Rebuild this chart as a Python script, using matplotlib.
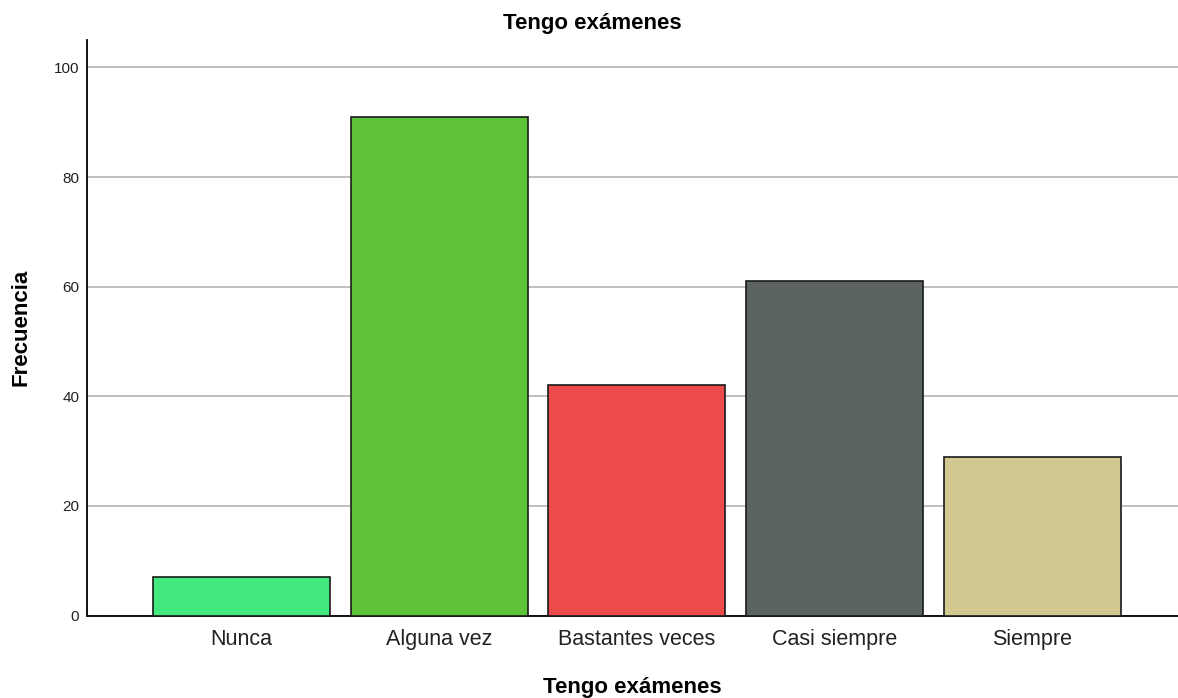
import matplotlib
matplotlib.use("Agg")
import matplotlib.pyplot as plt

categories = ["Nunca", "Alguna vez", "Bastantes veces", "Casi siempre", "Siempre"]
values = [7, 91, 42, 61, 29]
colors = ["#42E97E", "#5EC339", "#EC4A4B", "#5B645F", "#D1C98F"]
title = "Tengo exámenes"
xlabel = "Tengo exámenes"
ylabel = "Frecuencia"
yticks = [0, 20, 40, 60, 80, 100]

plt.rcParams["font.family"] = ["Liberation Sans", "DejaVu Sans"]

fig = plt.figure(figsize=(11.78, 6.98), dpi=100)
ax = fig.add_axes([87.5 / 1178, 1 - 615.5 / 698, 1 - 87.5 / 1178, (615.5 - 40) / 698])

x = list(range(len(categories)))
ax.bar(x, values, width=0.895, color=colors, edgecolor="#1a1a1a", linewidth=1.2, zorder=3)

ax.set_xlim(-0.779, 4.737)
ax.set_ylim(0, 105)
ax.set_yticks(yticks)
ax.yaxis.grid(True, color="#b4b4b4", linewidth=1.2, zorder=0)
ax.set_axisbelow(True)
ax.set_xticks(x)
ax.set_xticklabels(categories, fontsize=15.5, color="#222222")
ax.tick_params(axis="y", labelsize=11, length=0, pad=6, labelcolor="#222222")
ax.tick_params(axis="x", length=0, pad=10)

for s in ["top", "right"]:
    ax.spines[s].set_visible(False)
for s in ["left", "bottom"]:
    ax.spines[s].set_linewidth(1.3)
    ax.spines[s].set_color("black")

ax.set_xlabel(xlabel, fontsize=16, fontweight="bold", labelpad=19)
ax.set_ylabel(ylabel, fontsize=16, fontweight="bold", labelpad=16)
fig.text(592 / 1178, 1 - 23.5 / 698, title, fontsize=16, fontweight="bold", ha="center", va="center")

fig.savefig("out.png", dpi=100)
